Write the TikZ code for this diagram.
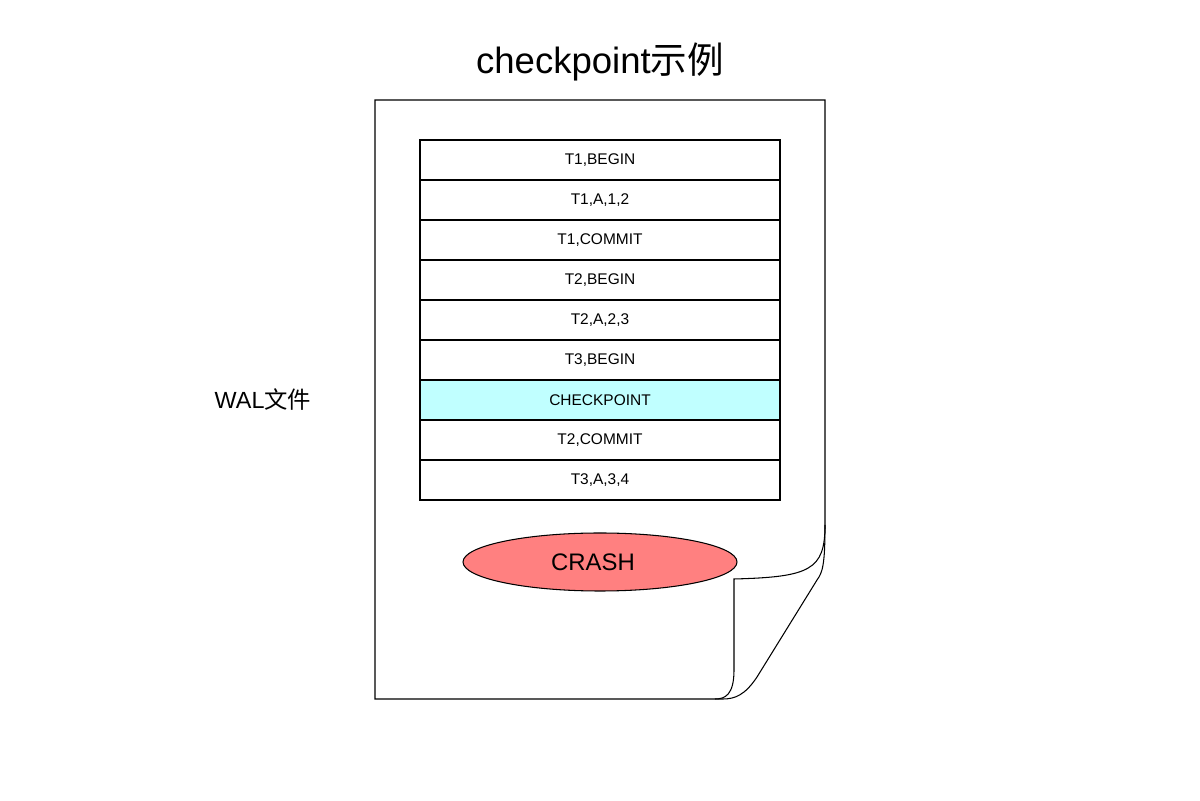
\documentclass[tikz,border=0pt]{standalone}
\usepackage{fontspec}
\setmainfont{Liberation Sans}
\newfontfamily\cjk{Noto Sans CJK SC}
\usetikzlibrary{positioning,shapes.geometric}

\definecolor{ckcyan}{RGB}{192,255,255}
\definecolor{crashred}{RGB}{255,128,128}

\tikzset{
  logrow/.style={draw=black,line width=0.6pt,minimum width=7.2cm,minimum height=0.8cm,inner sep=0pt,outer sep=0pt,font=\fontsize{8.8}{10}\selectfont},
  ckrow/.style={logrow,fill=ckcyan},
}

\begin{document}
\begin{tikzpicture}[line width=0.6pt]
                    \useasboundingbox (0,0) rectangle (24,16);
                    % the page with its curled corner
                    \draw[fill=white] (7.5,14) -- (16.5,14) -- (16.5,5.5)
                      .. controls (16.5,4.7) and (16.45,4.55) .. (16.34,4.4)
                      -- (15.14,2.46) .. controls (14.9,2.1) and (14.7,2.02) .. (14.46,2.02)
                      -- (7.5,2.02) -- cycle;
                    \draw (16.5,5.5) .. controls (16.5,4.6) and (16.2,4.46) .. (14.68,4.42)
                      -- (14.68,2.6) .. controls (14.68,2.1) and (14.5,2.02) .. (14.3,2.02);
                    \node[font=\fontsize{20.8}{24}\selectfont] (title) at (12,14.76) {checkpoint{\cjk 示例}};
                    \node[font=\fontsize{13.3}{16}\selectfont] (wal) at (5.26,8) {WAL{\cjk 文件}};
                    \node[logrow] (r1) at (12,12.8) {T1,BEGIN};
                    \node[logrow,below=0pt of r1] (r2) {T1,A,1,2};
                    \node[logrow,below=0pt of r2] (r3) {T1,COMMIT};
                    \node[logrow,below=0pt of r3] (r4) {T2,BEGIN};
                    \node[logrow,below=0pt of r4] (r5) {T2,A,2,3};
                    \node[logrow,below=0pt of r5] (r6) {T3,BEGIN};
                    \node[ckrow,below=0pt of r6] (r7) {CHECKPOINT};
                    \node[logrow,below=0pt of r7] (r8) {T2,COMMIT};
                    \node[logrow,below=0pt of r8] (r9) {T3,A,3,4};
                    \node[ellipse,draw=black,fill=crashred,minimum width=5.48cm,minimum height=1.16cm,inner sep=0pt,
                      font=\fontsize{13.6}{16}\selectfont] (crash) at (12,4.76) {\hspace*{-0.28cm}CRASH};
                \end{tikzpicture}
\end{document}
